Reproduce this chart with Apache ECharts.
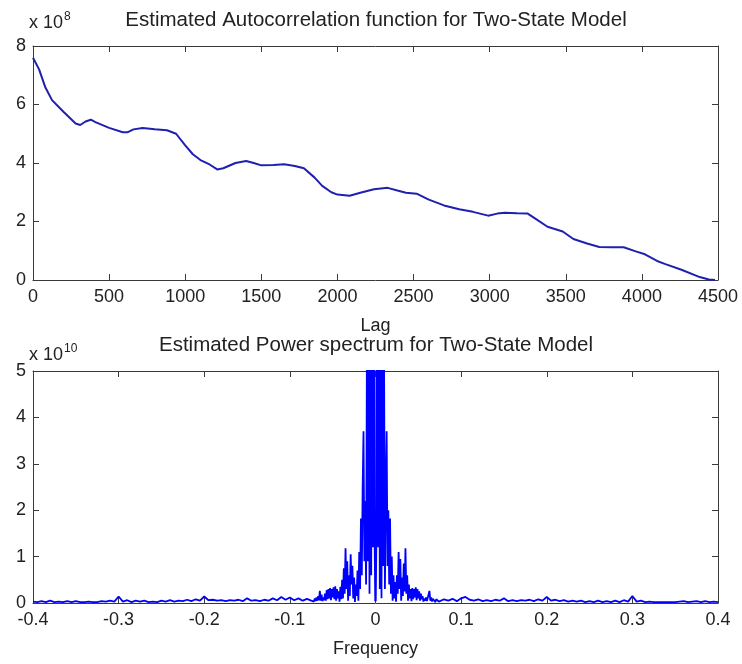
<!DOCTYPE html>
<html>
<head>
<meta charset="utf-8">
<script src="https://cdn.jsdelivr.net/npm/echarts@6/dist/echarts.min.js"></script>
<style>
html,body{margin:0;padding:0;background:#fff;}
#chart{width:742px;height:664px;}
</style>
</head>
<body>
<div id="chart"></div>
<script>
// ---- Autocorrelation (units of 1e8) ----
const acfLag = [0, 40, 80, 125, 200, 280, 310, 345, 380, 410, 500, 590, 620, 660, 720, 800, 880, 940, 1000, 1050, 1100, 1160, 1210, 1250, 1330, 1400, 1450, 1500, 1580, 1650, 1720, 1780, 1850, 1900, 1960, 2000, 2080, 2150, 2240, 2330, 2400, 2450, 2520, 2600, 2700, 2800, 2890, 2990, 3050, 3100, 3180, 3250, 3300, 3380, 3480, 3550, 3640, 3720, 3800, 3880, 3960, 4020, 4100, 4150, 4260, 4380, 4440, 4480];
const acfVal = [7.6, 7.2, 6.6, 6.15, 5.75, 5.35, 5.3, 5.42, 5.48, 5.4, 5.2, 5.05, 5.05, 5.15, 5.2, 5.15, 5.12, 5.0, 4.6, 4.3, 4.1, 3.95, 3.78, 3.82, 4.0, 4.07, 4.0, 3.92, 3.93, 3.96, 3.9, 3.82, 3.5, 3.22, 3.0, 2.92, 2.88, 2.98, 3.1, 3.15, 3.05, 2.98, 2.95, 2.75, 2.55, 2.42, 2.33, 2.2, 2.27, 2.3, 2.28, 2.27, 2.1, 1.82, 1.66, 1.4, 1.25, 1.13, 1.12, 1.12, 0.98, 0.88, 0.65, 0.55, 0.35, 0.1, 0.02, 0.0];
const acfXTicks = [0, 4500, 500];
const acfYTicks = [0, 8, 2];

// ---- Power spectrum (units of 1e10) ----
const psdLeft = [[-0.400,0.03],[-0.395,0.02],[-0.390,0.04],[-0.385,0.02],[-0.380,0.05],[-0.375,0.02],[-0.370,0.03],[-0.365,0.02],[-0.360,0.04],[-0.355,0.02],[-0.350,0.04],[-0.345,0.02],[-0.340,0.02],[-0.335,0.03],[-0.330,0.02],[-0.325,0.02],[-0.320,0.04],[-0.315,0.03],[-0.310,0.05],[-0.305,0.03],[-0.300,0.14],[-0.295,0.03],[-0.290,0.06],[-0.285,0.02],[-0.280,0.05],[-0.275,0.03],[-0.270,0.05],[-0.265,0.02],[-0.260,0.03],[-0.255,0.02],[-0.250,0.05],[-0.245,0.03],[-0.240,0.06],[-0.235,0.03],[-0.230,0.05],[-0.225,0.04],[-0.220,0.07],[-0.215,0.04],[-0.210,0.08],[-0.205,0.05],[-0.200,0.14],[-0.195,0.06],[-0.190,0.07],[-0.185,0.05],[-0.180,0.06],[-0.175,0.04],[-0.170,0.06],[-0.165,0.05],[-0.160,0.07],[-0.155,0.04],[-0.150,0.1],[-0.145,0.05],[-0.140,0.06],[-0.135,0.04],[-0.130,0.07],[-0.125,0.05],[-0.120,0.1],[-0.115,0.06],[-0.110,0.13],[-0.105,0.07],[-0.100,0.12],[-0.095,0.06],[-0.090,0.1],[-0.085,0.05],[-0.080,0.09]];
const psdCenter = [[-0.075,0.05],[-0.074,0.02],[-0.073,0.08],[-0.072,0.03],[-0.071,0.1],[-0.070,0.04],[-0.069,0.12],[-0.068,0.05],[-0.067,0.15],[-0.066,0.06],
[-0.065,0.26],[-0.064,0.05],[-0.063,0.18],[-0.062,0.04],[-0.061,0.12],[-0.060,0.06],[-0.059,0.2],[-0.058,0.05],[-0.057,0.28],[-0.056,0.08],
[-0.055,0.3],[-0.054,0.1],[-0.053,0.32],[-0.052,0.06],[-0.051,0.3],[-0.050,0.12],[-0.049,0.34],[-0.048,0.08],[-0.047,0.36],[-0.046,0.05],
[-0.045,0.3],[-0.044,0.1],[-0.043,0.25],[-0.042,0.03],[-0.041,0.35],[-0.040,0.08],[-0.039,0.5],[-0.038,0.1],[-0.037,0.75],[-0.036,0.2],
[-0.035,1.18],[-0.034,0.3],[-0.033,0.9],[-0.032,0.05],[-0.031,0.6],[-0.030,0.15],[-0.029,1.05],[-0.028,0.4],[-0.027,0.8],[-0.026,0.1],
[-0.025,0.55],[-0.024,0.02],[-0.023,0.4],[-0.022,0.15],[-0.021,0.7],[-0.020,0.05],[-0.019,1.1],[-0.018,0.3],[-0.017,1.82],[-0.016,0.6],
[-0.015,2.5],[-0.014,3.7],[-0.013,0.9],[-0.012,2.2],[-0.011,0.4],[-0.010,5.6],[-0.009,0.9],[-0.008,7.5],[-0.007,0.2],[-0.006,9],
[-0.005,0.6],[-0.004,11],[-0.003,1.2],[-0.002,12],[-0.001,1.3],[-0.0003,0.04],[0,1.4],[0.0003,0.04],[0.001,1.3],[0.002,12],
[0.003,1.2],[0.004,10],[0.005,0.3],[0.006,8],[0.007,0.1],[0.008,6.5],[0.009,0.8],[0.010,5.2],[0.011,0.3],[0.012,2.4],
[0.013,3.7],[0.014,0.8],[0.015,2.0],[0.016,0.4],[0.017,1.82],[0.018,0.2],[0.019,1.0],[0.020,0.05],[0.021,0.6],[0.022,0.1],
[0.023,0.45],[0.024,0.03],[0.025,0.6],[0.026,0.2],[0.027,1.1],[0.028,0.3],[0.029,0.95],[0.030,0.05],[0.031,0.55],[0.032,0.15],
[0.033,0.85],[0.034,0.25],[0.035,1.18],[0.036,0.2],[0.037,0.6],[0.038,0.05],[0.039,0.4],[0.040,0.1],[0.041,0.3],[0.042,0.04],
[0.043,0.32],[0.044,0.08],[0.045,0.3],[0.046,0.12],[0.047,0.34],[0.048,0.06],[0.049,0.3],[0.050,0.1],[0.051,0.25],[0.052,0.05],
[0.053,0.2],[0.054,0.08],[0.055,0.15],[0.056,0.03],[0.057,0.1],[0.058,0.05],[0.059,0.12],[0.060,0.04],[0.061,0.08],[0.062,0.03],
[0.063,0.26],[0.064,0.05],[0.065,0.12],[0.066,0.03],[0.067,0.09],[0.068,0.05],[0.069,0.1],[0.070,0.02],[0.071,0.08],[0.072,0.04],
[0.073,0.06],[0.074,0.03],[0.075,0.07]];
const psdRight = [[0.080,0.08],[0.085,0.05],[0.090,0.09],[0.095,0.04],[0.100,0.1],[0.105,0.13],[0.110,0.07],[0.115,0.05],[0.120,0.08],[0.125,0.04],[0.130,0.06],[0.135,0.04],[0.140,0.07],[0.145,0.05],[0.150,0.1],[0.155,0.04],[0.160,0.06],[0.165,0.04],[0.170,0.06],[0.175,0.05],[0.180,0.07],[0.185,0.04],[0.190,0.08],[0.195,0.05],[0.200,0.13],[0.205,0.05],[0.210,0.07],[0.215,0.04],[0.220,0.06],[0.225,0.03],[0.230,0.05],[0.235,0.03],[0.240,0.05],[0.245,0.02],[0.250,0.04],[0.255,0.02],[0.260,0.05],[0.265,0.02],[0.270,0.04],[0.275,0.02],[0.280,0.05],[0.285,0.02],[0.290,0.06],[0.295,0.03],[0.300,0.15],[0.305,0.03],[0.310,0.05],[0.315,0.02],[0.320,0.03],[0.325,0.02],[0.330,0.02],[0.335,0.02],[0.340,0.02],[0.345,0.02],[0.350,0.02],[0.355,0.03],[0.360,0.04],[0.365,0.02],[0.370,0.03],[0.375,0.04],[0.380,0.02],[0.385,0.04],[0.390,0.02],[0.395,0.03],[0.400,0.02]];
const psdXTicks = [-0.4, 0.4, 0.1];
const psdYTicks = [0, 5, 1];

const FONT = 'Liberation Sans, Arial, sans-serif';
const TXT = '#222';
const AX = '#3a3a3a';
const TICKFS = 18;

function mainX(grid, t, name, gap, fmt) {
  return { type: 'value', gridIndex: grid, min: t[0], max: t[1], interval: t[2], position: 'bottom',
    name: name, nameLocation: 'middle', nameGap: gap,
    nameTextStyle: { fontFamily: FONT, fontSize: 18, color: TXT },
    axisLine: { show: true, onZero: false, lineStyle: { color: AX, width: 1 } },
    axisTick: { show: true, inside: true, length: 6, lineStyle: { color: AX } },
    axisLabel: { fontFamily: FONT, fontSize: TICKFS, color: TXT, margin: 8, formatter: fmt },
    splitLine: { show: false } };
}
function mainY(grid, t) {
  return { type: 'value', gridIndex: grid, min: t[0], max: t[1], interval: t[2], position: 'left',
    axisLine: { show: true, onZero: false, lineStyle: { color: AX, width: 1 } },
    axisTick: { show: true, inside: true, length: 6, lineStyle: { color: AX } },
    axisLabel: { fontFamily: FONT, fontSize: TICKFS, color: TXT, margin: 7 },
    splitLine: { show: false } };
}
function mirrorX(grid, t) {
  return { type: 'value', gridIndex: grid, min: t[0], max: t[1], interval: t[2], position: 'top',
    axisLine: { show: true, onZero: false, lineStyle: { color: AX, width: 1 } },
    axisTick: { show: true, inside: true, length: 6, lineStyle: { color: AX } },
    axisLabel: { show: false }, splitLine: { show: false } };
}
function mirrorY(grid, t) {
  return { type: 'value', gridIndex: grid, min: t[0], max: t[1], interval: t[2], position: 'right',
    axisLine: { show: true, onZero: false, lineStyle: { color: AX, width: 1 } },
    axisTick: { show: true, inside: true, length: 6, lineStyle: { color: AX } },
    axisLabel: { show: false }, splitLine: { show: false } };
}
function lagFmt(v) { return String(Math.round(v)); }
function freqFmt(v) {
  const r = Math.round(v * 10) / 10;
  return r === 0 ? '0' : String(r);
}

const acfData = acfLag.map((l, i) => [l, acfVal[i]]);
const psdData = psdLeft.concat(psdCenter, psdRight);

const chart = echarts.init(document.getElementById('chart'), null, { renderer: 'canvas' });
chart.setOption({
  backgroundColor: '#ffffff',
  animation: false,
  title: [
    { text: 'Estimated Autocorrelation function for Two-State Model', left: 371, top: 5, textAlign: 'center',
      textStyle: { fontFamily: FONT, fontSize: 20.5, fontWeight: 'normal', color: TXT } },
    { text: 'Estimated Power spectrum for Two-State Model', left: 371, top: 330, textAlign: 'center',
      textStyle: { fontFamily: FONT, fontSize: 20.5, fontWeight: 'normal', color: TXT } }
  ],
  graphic: [
    { type: 'text', left: 29, top: 11, style: { text: '{b|x 10}{s|8}', rich: {
        b: { fontFamily: FONT, fontSize: 18, fill: TXT, color: TXT },
        s: { fontFamily: FONT, fontSize: 12, fill: TXT, color: TXT, verticalAlign: 'top', padding: [0, 0, 12, 1] } } } },
    { type: 'text', left: 29, top: 343, style: { text: '{b|x 10}{s|10}', rich: {
        b: { fontFamily: FONT, fontSize: 18, fill: TXT, color: TXT },
        s: { fontFamily: FONT, fontSize: 12, fill: TXT, color: TXT, verticalAlign: 'top', padding: [0, 0, 12, 1] } } } }
  ],
  grid: [
    { left: 33, right: 24, top: 46, height: 234, containLabel: false },
    { left: 33, right: 24, top: 371, height: 232, containLabel: false }
  ],
  xAxis: [
    mainX(0, acfXTicks, 'Lag', 37, lagFmt),
    mirrorX(0, acfXTicks),
    mainX(1, psdXTicks, 'Frequency', 37, freqFmt),
    mirrorX(1, psdXTicks)
  ],
  yAxis: [
    mainY(0, acfYTicks),
    mirrorY(0, acfYTicks),
    mainY(1, psdYTicks),
    mirrorY(1, psdYTicks)
  ],
  series: [
    { type: 'line', xAxisIndex: 0, yAxisIndex: 0, data: acfData, showSymbol: false, smooth: false,
      lineStyle: { color: '#2020b0', width: 2 }, clip: true },
    { type: 'line', xAxisIndex: 2, yAxisIndex: 2, data: psdData, showSymbol: false, smooth: false,
      lineStyle: { color: '#0000ff', width: 1.8 }, clip: true }
  ]
});
</script>
</body>
</html>
